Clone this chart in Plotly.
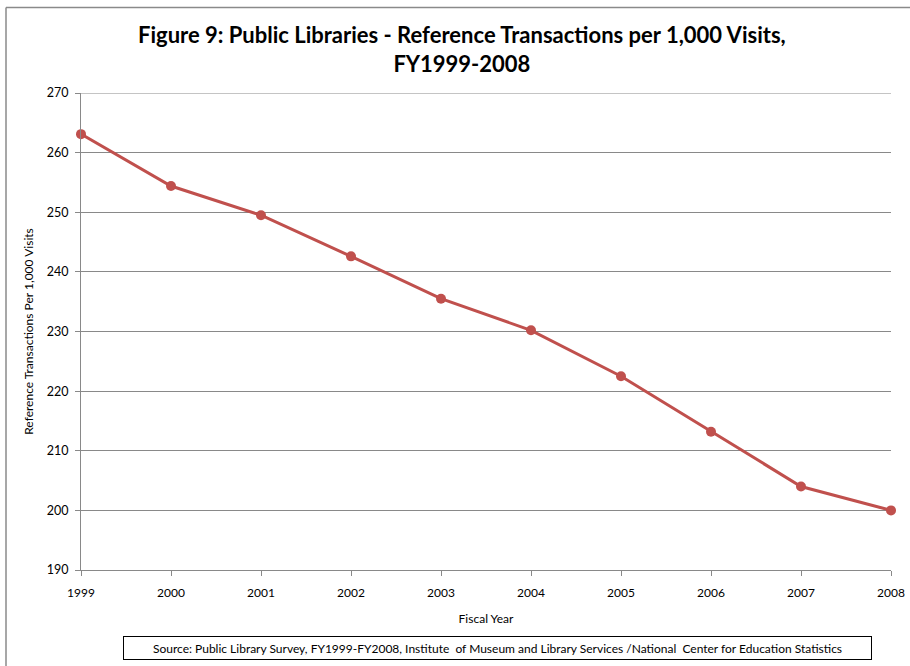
import plotly.graph_objects as go

years = [1999, 2000, 2001, 2002, 2003, 2004, 2005, 2006, 2007, 2008]
ref_per_1000 = [263.1, 254.4, 249.5, 242.6, 235.5, 230.2, 222.5, 213.2, 204.0, 200.0]
y_ticks = [190, 200, 210, 220, 230, 240, 250, 260, 270]

title_text = "Figure 9: Public Libraries - Reference Transactions per 1,000 Visits,<br>FY1999-2008"
x_title = "Fiscal Year"
y_title = "Reference Transactions Per 1,000 Visits"
source_text = ("Source: Public Library Survey, FY1999-FY2008, Institute  of Museum and Library Services /"
               "National  Center for Education Statistics")

W, H = 910, 666
L, R, T, B = 81, 19, 93, 96
pw, ph = W - L - R, H - T - B

def px(x):
    return (x - L) / pw

def py(y):
    return (H - B - y) / ph

font = "Lato, Carlito, Calibri, 'Open Sans', sans-serif"

fig = go.Figure()
fig.add_trace(go.Scatter(
    x=years, y=ref_per_1000, mode="lines+markers",
    line=dict(color="#C0504D", width=3),
    marker=dict(color="#C0504D", size=10),
    showlegend=False, cliponaxis=False,
))

fig.update_layout(
    width=W, height=H, autosize=False,
    margin=dict(l=L, r=R, t=T, b=B, pad=0, autoexpand=False),
    paper_bgcolor="white", plot_bgcolor="white",
    font=dict(family=font, color="#000000", size=12),
    xaxis=dict(
        range=[1999, 2008], tickmode="array", tickvals=years,
        ticktext=[str(y) for y in years],
        showgrid=False, zeroline=False, automargin=False,
        showline=True, linecolor="#898989", linewidth=1,
        ticks="outside", ticklen=5, tickcolor="#898989",
        ticklabelstandoff=7,
        tickfont=dict(size=12, family=font),
        title=dict(text=x_title, font=dict(size=12, family=font), standoff=15),
    ),
    yaxis=dict(
        range=[190, 270], tickmode="array", tickvals=y_ticks,
        showgrid=True, gridcolor="#898989", gridwidth=1,
        zeroline=False, automargin=False,
        showline=True, linecolor="#898989", linewidth=1,
        ticks="outside", ticklen=5, tickcolor="#898989",
        ticklabelstandoff=4,
        tickfont=dict(size=12.5, family=font),
        title=dict(text=y_title, font=dict(size=12, family=font), standoff=10),
    ),
    annotations=[
        dict(text=title_text, xref="paper", yref="paper",
             x=px(462), y=py(49), xanchor="center", yanchor="middle",
             showarrow=False, align="center",
             font=dict(size=22, family=font, color="#000000", weight="bold")),
        dict(text=source_text, xref="paper", yref="paper",
             x=px(497.5), y=py(648), xanchor="center", yanchor="middle",
             showarrow=False, align="center",
             width=743, height=18,
             bordercolor="#000000", borderwidth=1, borderpad=2,
             bgcolor="white",
             font=dict(size=12, family=font, color="#000000")),
    ],
    shapes=[
        dict(type="line", xref="paper", yref="y",
             x0=0, x1=1, y0=y_ticks[-1], y1=y_ticks[-1],
             line=dict(color="#898989", width=1)),
        dict(type="line", xref="paper", yref="paper",
             x0=px(6), x1=px(915), y0=py(7.5), y1=py(7.5),
             line=dict(color="#8a8a8a", width=1.5)),
        dict(type="line", xref="paper", yref="paper",
             x0=px(6), x1=px(6), y0=py(7.5), y1=py(680),
             line=dict(color="#8a8a8a", width=1.5)),
    ],
)

fig.write_html("out.html", config={"displayModeBar": False},
               post_script="document.body.style.margin='0px';")
